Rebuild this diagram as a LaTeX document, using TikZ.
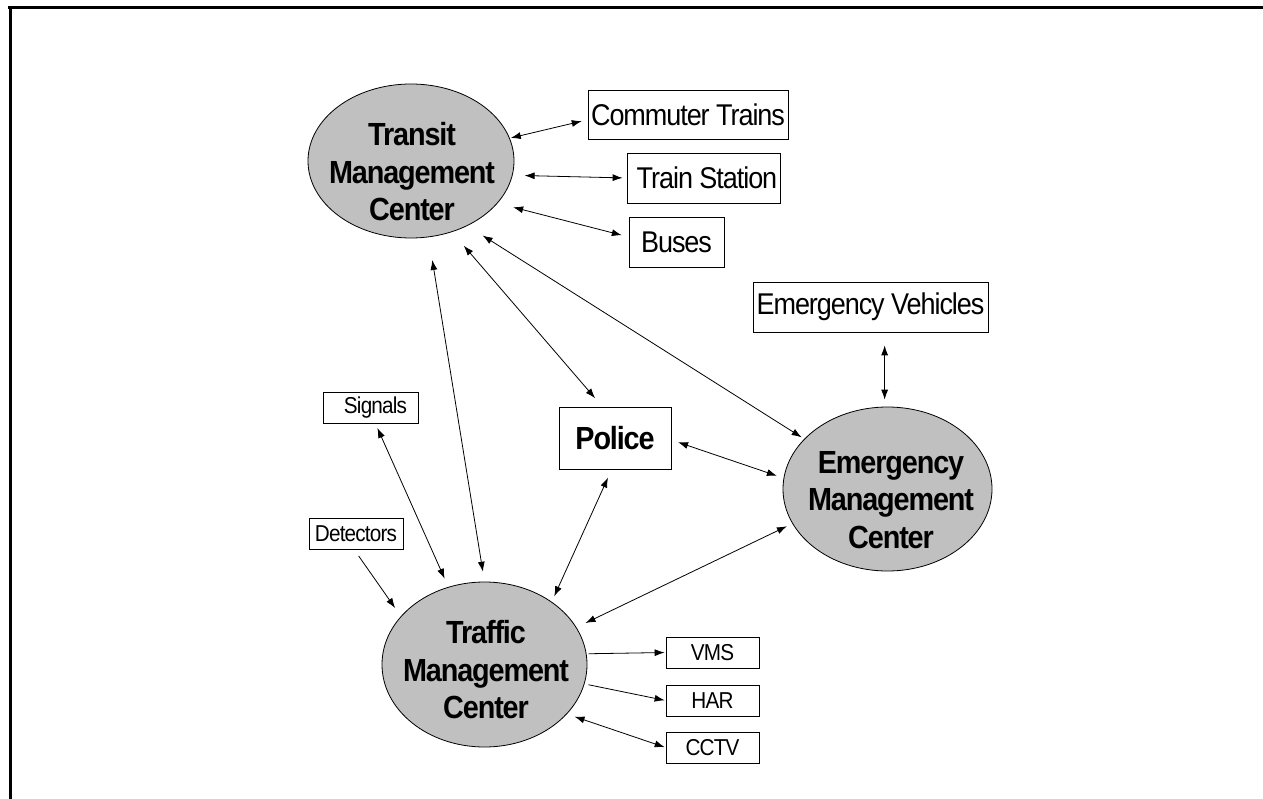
\documentclass[tikz,border=0pt]{standalone}
\usepackage{fontspec}
\setmainfont{Liberation Sans}[FakeStretch=0.9, LetterSpace=-3.5]
\usetikzlibrary{arrows.meta}
\usetikzlibrary{shapes.geometric}

\definecolor{hubgray}{RGB}{192,192,192}

\tikzset{
	hub/.style={ellipse, draw, fill=hubgray, line width=0.8pt},
	hubtext/.style={align=center, inner sep=0pt, font=\fontsize{32pt}{37.5pt}\selectfont\bfseries},
	bigbox/.style={draw, line width=0.8pt, inner sep=0pt, font=\fontsize{30pt}{34pt}\selectfont},
	smallbox/.style={draw, line width=0.8pt, inner sep=0pt, minimum width=94pt, minimum height=31pt, font=\fontsize{23pt}{27pt}\selectfont},
	link/.style={line width=0.8pt}
}

\begin{document}
\begin{tikzpicture}[x=1pt, y=-1pt, >={Latex[length=10pt,width=7pt]}]
		\useasboundingbox (0,0) rectangle (1263,799);
		\draw[line width=3pt] (8,7.5) -- (1263,7.5);
		\draw[line width=3pt] (10.5,6) -- (10.5,799);

		% the three centres
		\node[hub, minimum width=206pt, minimum height=154pt] (tmc) at (411,161) {};
		\node[hubtext] (tmclabel) at (412,172) {Transit\\Management\\Center};
		\node[hub, minimum width=205pt, minimum height=165pt] (trf) at (484.5,664.5) {};
		\node[hubtext] (trflabel) at (486,670) {Traffic\\Management\\Center};
		\node[hub, minimum width=209pt, minimum height=164pt] (emc) at (887.5,489) {};
		\node[hubtext] (emclabel) at (891,500) {Emergency\\Management\\Center};

		% boxes
		\node[bigbox, minimum width=200pt, minimum height=49pt] (ct) at (688,114.5) {Commuter Trains};
		\node[bigbox, minimum width=153pt, minimum height=50pt] (ts) at (703.5,178) {\hspace{7pt}Train Station};
		\node[bigbox, minimum width=95pt, minimum height=50pt] (bus) at (676.5,242) {Buses};
		\node[bigbox, minimum width=235pt, minimum height=50pt] (ev) at (870.5,307) {Emergency Vehicles};
		\node[draw, line width=0.8pt, minimum width=112pt, minimum height=62pt, font=\fontsize{32pt}{37pt}\selectfont\bfseries] (pol) at (615,438) {Police};
		\node[smallbox, minimum width=95pt] (sig) at (370.5,407.5) {\hspace{10pt}Signals};
		\node[smallbox] (det) at (356,533.5) {Detectors};
		\node[smallbox, minimum width=93pt] (vms) at (712.5,652.5) {VMS};
		\node[smallbox, minimum width=93pt] (har) at (712.5,700.5) {HAR};
		\node[smallbox, minimum width=93pt] (cctv) at (712.5,747.5) {CCTV};

		% transit links
		\draw[link, <->, shorten <=1pt, shorten >=6pt] (tmc.13) to (ct.183);
		\draw[link, <->, shorten <=12pt, shorten >=4pt] (tmc.-8) to (ts.west);
		\draw[link, <->, shorten <=16pt, shorten >=7pt] (tmc.-26) to (bus.174);
		\draw[link, <->, shorten <=23pt, shorten >=10pt] (tmc.-77.5) to (trf.90.3);
		\draw[link, <->, shorten <=18pt, shorten >=11pt] (tmc.-60.6) to (pol.112.5);
		\draw[link, <->, shorten <=18pt, shorten >=3pt] (tmc.-49.7) to (emc.149.6);

		% emergency links
		\draw[link, <->, shorten <=7pt, shorten >=7pt] (pol.-2) to (emc.174.7);
		\draw[link, <->, shorten <=7pt, shorten >=13pt] (emc.92) to (emc.92 |- ev.south);
		\draw[link, <->, shorten <=10pt, shorten >=6pt] (trf.22.4) to (emc.-160.4);

		% traffic links
		\draw[link, <->, shorten <=5pt, shorten >=9pt] (sig.-73) to (trf.115.8);
		\draw[link, ->, shorten <=8pt, shorten >=10pt] (det.-97) to (trf.150.8);
		\draw[link, <->, shorten <=9pt, shorten >=6pt] (pol.-96) to (trf.43.8);
		\draw[link, ->, shorten <=2pt, shorten >=1pt] (trf.6.5) to (vms.west);
		\draw[link, ->, shorten <=4pt, shorten >=1pt] (trf.-11.7) to (har.west);
		\draw[link, <->, shorten <=8pt, shorten >=1pt] (trf.-31.2) to (cctv.west);
	\end{tikzpicture}
\end{document}
